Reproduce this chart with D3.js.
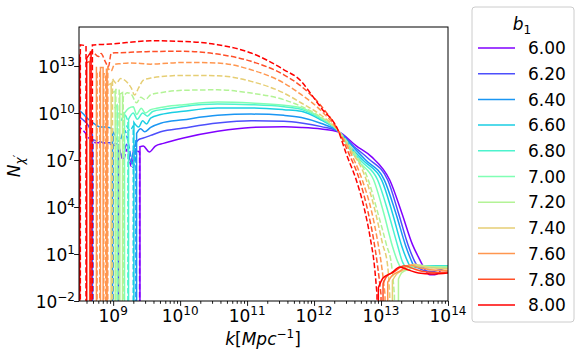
<!DOCTYPE html>
<html><head><meta charset="utf-8">
<script src="https://cdn.jsdelivr.net/npm/d3@7"></script>
<style>body{margin:0;background:#fff} text{font-family:"DejaVu Sans",sans-serif;fill:#000}</style>
</head><body><svg id="c" width="582" height="359"></svg>
<script>
// ---- data (log10 k, log10 |N|); null = sign change ----
const b1Labels = ["6.00","6.20","6.40","6.60","6.80","7.00","7.20","7.40","7.60","7.80","8.00"];
const lineColors = ["#8000ff","#4d4ffc","#1a96f3","#1acee3","#4df3ce","#80ffb4","#b3f396","#e6ce74","#ff964f","#ff4f28","#ff0000"];
const firstSign = [-1, 1, 1, -1, -1, 1, 1, 1, 1, 1, 1];
const xTicks = [1e9, 1e10, 1e11, 1e12, 1e13, 1e14];
const xTickExp = ["9","10","11","12","13","14"];
const yTicks = [1e-2, 1e1, 1e4, 1e7, 1e10, 1e13];
const yTickExp = ["\u22122","1","4","7","10","13"];

const lk600 = [8.47,8.57,8.66,8.75,8.84,8.96,9.08,9.15,9.21,9.27,9.33,9.395,null,9.40,9.45,9.54,9.63,9.75,10.05,10.56,11.06,11.55,11.81,12.11,12.36,12.63,12.86,13.13,13.31,13.47,13.58,13.64,13.73,13.80,13.86,13.92,14.02];
const ln600 = [9.2,8.8,8.3,8.1,8.1,8.0,7.8,7.0,7.7,6.6,7.6,7.5,null,7.85,7.89,7.51,7.89,8.06,8.40,8.83,9.08,9.12,9.08,8.98,8.8,7.9,7.2,5.72,3.62,1.6,0.62,0.12,-0.33,-0.33,-0.21,0.11,0.17];

const lk620 = [8.45,8.54,8.63,8.69,null,8.70,8.78,8.88,8.97,9.07,null,9.08,9.14,9.20,9.26,9.32,9.38,9.45,9.56,9.71,10.05,10.56,11.06,11.55,11.81,12.11,12.36,12.60,12.81,13.10,13.26,13.41,13.50,13.56,13.64,13.76,13.88,14.02];
const ln620 = [9.9,9.6,9.2,8.6,null,8.3,8.2,8.1,8.1,8.0,null,8.0,7.2,8.0,6.9,7.9,8.3,8.4,8.57,8.8,9.04,9.36,9.51,9.47,9.36,9.13,8.82,7.85,7.1,5.72,3.62,1.5,0.55,0.12,-0.05,-0.12,0.0,0.2];

const lk640 = [8.45,8.54,8.63,8.72,8.81,8.90,8.99,null,9.00,9.09,9.17,9.24,9.30,9.34,null,9.35,9.41,9.47,9.56,9.71,10.05,10.56,11.06,11.55,11.81,12.11,12.36,12.59,12.77,13.05,13.22,13.37,13.46,13.50,13.61,13.79,14.02];
const ln640 = [10.3,10.0,9.6,9.3,9.1,9.1,9.0,null,8.8,8.2,8.9,7.8,6.5,8.3,null,8.7,9.0,8.8,9.08,9.35,9.57,9.85,9.93,9.85,9.72,9.33,8.84,7.8,7.0,5.72,3.62,1.5,0.5,0.15,0.1,0.15,0.22];

const lk660 = [9.20,9.25,9.30,null,9.31,9.38,9.44,9.50,9.56,9.71,10.05,10.56,11.06,11.55,11.81,12.11,12.36,12.56,12.74,13.01,13.17,13.31,13.40,13.44,13.61,13.83,14.02];
const ln660 = [9.2,8.9,9.2,null,9.4,9.1,9.5,9.3,9.68,9.9,10.11,10.32,10.32,10.21,10.11,9.54,8.85,7.75,6.95,5.72,3.62,1.5,0.5,0.2,0.22,0.25,0.25];

const lk680 = [9.12,9.17,9.22,null,9.23,9.30,9.36,9.44,9.51,9.59,9.78,10.05,10.56,11.06,11.55,11.81,12.11,12.36,12.54,12.71,12.95,13.11,13.25,13.32,13.37,13.53,13.76,14.02];
const ln680 = [9.5,9.9,9.5,null,9.6,10.0,9.6,10.0,9.8,10.1,10.25,10.42,10.57,10.53,10.40,10.23,9.61,8.86,7.75,6.9,5.72,3.62,1.5,0.5,0.2,0.25,0.2,0.22];

const lk700 = [9.02,9.06,null,9.07,9.12,9.16,null,9.17,9.23,9.30,9.35,9.42,9.48,9.56,9.65,9.78,10.05,10.56,11.06,11.55,11.81,12.11,12.36,12.53,12.68,12.89,13.04,13.17,13.25,13.29,13.46,13.68,14.02];
const ln700 = [10.3,10.5,null,10.1,9.9,10.1,null,10.0,10.3,10.4,9.9,10.3,10.0,10.21,10.3,10.4,10.53,10.70,10.64,10.49,10.32,9.67,8.87,7.7,6.85,5.72,3.62,1.5,0.5,0.2,0.25,0.2,0.2];

const lk720 = [8.99,9.03,null,9.04,9.09,null,9.10,9.14,null,9.15,9.21,9.27,9.35,9.41,9.48,9.56,9.71,10.05,10.56,11.06,11.55,11.81,12.11,12.36,12.56,12.81,12.96,13.08,13.16,13.20,null,13.26,13.31,13.43,13.58,13.70,14.02];
const ln720 = [11.3,11.4,null,11.5,11.5,null,11.2,11.3,null,11.0,11.3,11.2,10.65,11.0,10.85,11.17,11.3,11.45,11.48,11.27,10.85,10.42,9.72,8.87,7.75,5.72,3.5,1.6,0.2,-1.6,null,-0.6,-0.2,0.05,0.3,0.2,0.15];

const lk740 = [8.93,8.97,null,8.99,9.05,9.11,9.20,9.27,9.32,9.38,9.45,9.56,10.05,10.56,11.06,11.55,11.81,12.11,12.36,12.54,12.78,12.92,13.02,13.10,13.13,null,13.17,13.23,13.35,13.50,13.61,13.79,14.02];
const ln740 = [11.8,11.9,null,12.2,11.9,12.2,12.0,11.6,11.15,11.6,12.1,12.23,12.40,12.38,12.02,11.27,10.64,9.84,8.87,7.7,5.72,3.6,1.7,0.2,-1.6,null,-0.7,-0.3,0.0,0.35,0.2,0.1,0.05];

const lk760 = [8.74,8.75,null,8.76,8.80,null,8.81,8.85,null,8.86,8.89,null,8.90,8.91,null,8.92,8.97,9.02,9.11,9.26,9.56,10.05,10.56,11.06,11.55,11.81,12.11,12.36,12.53,12.72,12.86,12.95,13.01,13.06,null,13.10,13.16,13.28,13.43,13.55,13.73,14.02];
const ln760 = [12.9,12.9,null,12.6,12.6,null,12.9,12.9,null,12.5,12.5,null,12.8,12.8,null,12.9,12.68,13.1,13.15,13.2,13.12,13.23,13.19,12.76,11.91,11.17,10.13,8.87,7.6,5.72,3.7,1.8,0.2,-1.6,null,-0.8,-0.4,-0.1,0.3,0.15,0.0,-0.05];

const lk780 = [8.60,8.65,null,8.66,8.69,8.78,8.82,8.88,8.93,8.97,9.03,9.11,9.36,9.56,10.05,10.56,11.06,11.55,11.81,12.11,12.36,12.51,12.68,12.80,12.89,12.95,13.00,null,13.03,13.08,13.19,13.35,13.46,13.61,13.83,14.02];
const ln780 = [13.2,13.3,null,13.9,13.9,13.6,13.8,13.3,12.95,13.8,13.85,13.85,13.9,13.92,13.94,13.76,13.30,12.44,11.70,10.43,8.88,7.5,5.72,3.8,1.9,0.2,-1.6,null,-0.9,-0.45,-0.15,0.25,0.1,-0.1,-0.18,-0.15];

const lk800 = [8.47,8.50,null,8.51,8.595,null,8.605,8.67,null,8.69,8.75,8.96,9.20,9.56,10.05,10.56,11.06,11.55,11.81,11.91,12.11,12.36,12.48,12.63,12.75,12.84,12.90,12.94,null,12.96,13.03,13.16,13.28,13.41,13.56,13.76,14.02];
const ln800 = [13.7,13.7,null,14.35,14.3,null,13.5,13.9,null,14.34,14.36,14.40,14.5,14.61,14.57,14.36,13.83,12.76,12.02,11.47,10.3,8.88,7.4,5.72,3.9,2.0,0.3,-1.6,null,-1.15,-0.53,-0.21,0.17,-0.02,-0.21,-0.28,-0.2];

const seriesK = [lk600,lk620,lk640,lk660,lk680,lk700,lk720,lk740,lk760,lk780,lk800];
const seriesN = [ln600,ln620,ln640,ln660,ln680,ln700,ln720,ln740,ln760,ln780,ln800];

// ---- layout ----
const L = 79, R = 448, T = 27, B = 301;
const svg = d3.select("#c");
const x = d3.scaleLog().domain([Math.pow(10, 8.49), 1e14]).range([L, R]);
const y = d3.scaleLog().domain([1e-2, Math.pow(10, 15.49)]).range([B, T]);

svg.append("defs").append("clipPath").attr("id","clip")
  .append("rect").attr("x",L).attr("y",T).attr("width",R-L).attr("height",B-T);

const plot = svg.append("g").attr("clip-path","url(#clip)");
const line = d3.line().x(d => x(d[0])).y(d => y(d[1])).curve(d3.curveMonotoneX);
const yb = B + 30;

function toRuns(ks, ns, s0){
  const out = []; let cur = []; let s = s0;
  ks.forEach((k, i) => {
    if (k === null) { out.push({sign: s, pts: cur}); cur = []; s = -s; }
    else cur.push([Math.pow(10, k), Math.pow(10, ns[i])]);
  });
  out.push({sign: s, pts: cur});
  return out;
}

seriesK.forEach((ks, si) => {
  const runs = toRuns(ks, seriesN[si], firstSign[si]);
  const g = plot.append("g");
  [1, -1].forEach(sg => {
    runs.forEach((r, ri) => {
      if (r.sign !== sg || r.pts.length === 0) return;
      let d = line(r.pts);
      const p0 = r.pts[0], pn = r.pts[r.pts.length-1];
      if (ri > 0) d = `M${x(p0[0])},${yb}L` + d.slice(1);
      if (ri < runs.length - 1) d += `L${x(pn[0])},${yb}`;
      g.append("path").attr("d", d).attr("fill","none")
        .attr("stroke", lineColors[si]).attr("stroke-width", 1.5)
        .attr("stroke-dasharray", sg < 0 ? "5.5,2.4" : null);
    });
  });
});

// ---- axes ----
const minor = [];
for (let e = 8; e <= 13; e++) for (let m = 2; m <= 9; m++) {
  const v = m * Math.pow(10, e);
  if (v >= x.domain()[0] && v <= x.domain()[1]) minor.push(v);
}
svg.append("g").attr("transform", `translate(0,${B})`)
  .call(d3.axisBottom(x).tickValues(xTicks).tickSize(4.9).tickFormat(""));
svg.append("g").attr("transform", `translate(0,${B})`)
  .call(d3.axisBottom(x).tickValues(minor).tickSize(2.8).tickFormat(""));
svg.append("g").attr("transform", `translate(${L},0)`)
  .call(d3.axisLeft(y).tickValues(yTicks).tickSize(4.9).tickFormat(""));
svg.selectAll(".domain").remove();
svg.selectAll(".tick line").attr("stroke","#000").attr("stroke-width",0.9);

xTicks.forEach((v, i) => {
  const t = svg.append("text").attr("x", x(v)).attr("y", 322)
    .attr("text-anchor","middle").attr("font-size", 17);
  t.append("tspan").text("10");
  t.append("tspan").attr("dy", -7).attr("font-size", 12).text(xTickExp[i]);
});
yTicks.forEach((v, i) => {
  const t = svg.append("text").attr("x", 75).attr("y", y(v) + 6.5)
    .attr("text-anchor","end").attr("font-size", 17);
  t.append("tspan").text("10");
  t.append("tspan").attr("dy", -7).attr("font-size", 12).text(yTickExp[i]);
});

// frame
svg.append("rect").attr("x",L).attr("y",T).attr("width",R-L).attr("height",B-T)
  .attr("fill","none").attr("stroke","#000").attr("stroke-width",1);

// axis labels
const xl = svg.append("text").attr("x", 263).attr("y", 345).attr("text-anchor","middle").attr("font-size",17);
xl.append("tspan").attr("font-style","italic").text("k");
xl.append("tspan").text("[");
xl.append("tspan").attr("font-style","italic").text("Mpc");
xl.append("tspan").attr("dy",-7).attr("font-size",12).text("\u22121");
xl.append("tspan").attr("dy",7).text("]");

const yl = svg.append("text").attr("transform","translate(20,166) rotate(-90)")
  .attr("text-anchor","middle").attr("font-size",17);
yl.append("tspan").attr("font-style","italic").text("N");
yl.append("tspan").attr("dy",4).attr("font-size",12).attr("font-style","italic").text("\u03c7");
yl.append("tspan").attr("dy",-3).attr("font-size",11).text("\u2032");

// legend
const lg = svg.append("g");
lg.append("rect").attr("x",472).attr("y",7).attr("width",102).attr("height",315).attr("rx",3)
  .attr("fill","#fff").attr("fill-opacity",0.8).attr("stroke","#ccc").attr("stroke-width",1);
const lt = lg.append("text").attr("x",522).attr("y",30).attr("text-anchor","middle").attr("font-size",17);
lt.append("tspan").attr("font-style","italic").text("b");
lt.append("tspan").attr("dy",4).attr("font-size",12).text("1");
b1Labels.forEach((lab, i) => {
  const yy = 48 + i * 25.7;
  lg.append("line").attr("x1",478).attr("x2",515).attr("y1",yy).attr("y2",yy)
    .attr("stroke", lineColors[i]).attr("stroke-width",1.5);
  lg.append("text").attr("x",528).attr("y",yy + 6.2).attr("font-size",17).text(lab);
});
</script></body></html>
